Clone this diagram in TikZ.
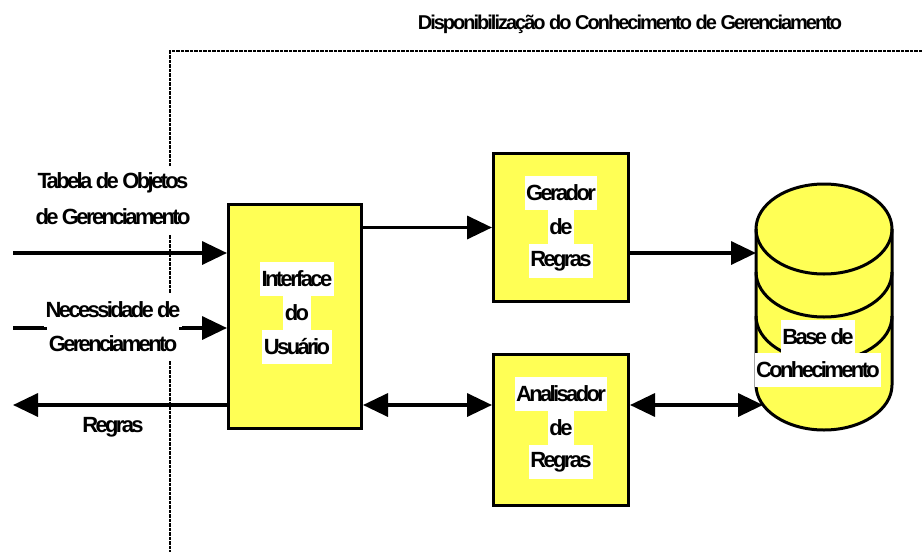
\documentclass[tikz,border=0pt]{standalone}
\usepackage{fontspec}
\setmainfont{Liberation Sans}
\newfontfamily\labelfont{Liberation Sans}[LetterSpace=-12]
\newfontfamily\titlefont{Liberation Sans}[LetterSpace=-10]
\usetikzlibrary{arrows.meta}
\definecolor{boxyellow}{HTML}{FFFF55}
\begin{document}
\begin{tikzpicture}[x=1pt,y=-1pt,
  blk/.style={draw, line width=3pt, fill=boxyellow, inner sep=0pt},
  txt/.style={fill=white, inner xsep=1.5pt, inner ysep=0pt, minimum height=34pt,
    font=\labelfont\bfseries\fontsize{22}{24}\selectfont},
  ttl/.style={inner sep=0pt, font=\titlefont\bfseries\fontsize{20}{22}\selectfont},
  arr/.style={line width=3.5pt, -{Triangle[length=25pt,width=23pt]}},
  dbl/.style={line width=3.5pt,
    {Triangle[length=25pt,width=23pt]}-{Triangle[length=25pt,width=23pt]}},
  zoneline/.style={line width=1.6pt, dash pattern=on 3.5pt off 1pt}]
\useasboundingbox (0,0) rectangle (922,552);

% boundary of the management-knowledge area
\draw[zoneline] (922,51) -- (170,51) -- (170,552);
\node[ttl] (title) at (630,24) {Disponibilização do Conhecimento de Gerenciamento};

% processing blocks
\node[blk, minimum width=133pt, minimum height=224pt] (ui)  at (295,316.5) {};
\node[blk, minimum width=135pt, minimum height=148pt] (gen) at (561,227.5) {};
\node[blk, minimum width=135pt, minimum height=151pt] (ana) at (561,430) {};

% knowledge base drum
\fill[boxyellow] (756,229) -- (756,385)
  arc[start angle=180, end angle=0, x radius=68, y radius=45] -- (892,229)
  arc[start angle=0, end angle=-180, x radius=68, y radius=45] -- cycle;
\draw[line width=3pt] (756,229) -- (756,385)
  arc[start angle=180, end angle=0, x radius=68, y radius=45] -- (892,229);
\draw[line width=3pt] (824,229) ellipse [x radius=68, y radius=45];
\draw[line width=3pt] (756,272) arc[start angle=180, end angle=0, x radius=68, y radius=45];
\draw[line width=3pt] (756,316) arc[start angle=180, end angle=0, x radius=68, y radius=45];
\coordinate (kbin) at (756,253);
\coordinate (kbout) at (763,405);

% external ends of the interface flows
\coordinate (tin) at (13,253);
\coordinate (nin) at (13,328);
\coordinate (rout) at (13,405);

% connectors
\draw[arr] (tin) -- (tin -| ui.west);
\draw[arr] (nin) -- (nin -| ui.west);
\draw[arr] (ui.west |- rout) -- (rout);
\draw[arr] (ui.east |- gen.west) -- (gen.west);
\draw[dbl] (ui.east |- rout) -- (ana.west |- rout);
\draw[arr] (gen.east |- kbin) -- (kbin);
\draw[dbl] (ana.east |- rout) -- (kbout);

% external labels
\node[txt] (t1) at (113,183) {Tabela de Objetos};
\node[txt] (t2) at (113,217) {de Gerenciamento};
\node[txt] (n1) at (113,310) {Necessidade de};
\node[txt] (n2) at (113,344) {Gerenciamento};
\node[txt] (r1) at (113,427) {Regras};

% block labels
\node[txt] (ui1) at (297,279) {Interface};
\node[txt] (ui2) at (297,313) {do};
\node[txt] (ui3) at (297,347) {Usuário};
\node[txt] (gen1) at (561,193) {Gerador};
\node[txt] (gen2) at (561,227) {de};
\node[txt] (gen3) at (561,261) {Regras};
\node[txt] (ana1) at (561,394) {Analisador};
\node[txt] (ana2) at (561,428) {de};
\node[txt] (ana3) at (561,462) {Regras};
\node[txt] (kb1) at (818,337) {Base de};
\node[txt] (kb2) at (818,370) {Conhecimento};
\end{tikzpicture}
\end{document}
